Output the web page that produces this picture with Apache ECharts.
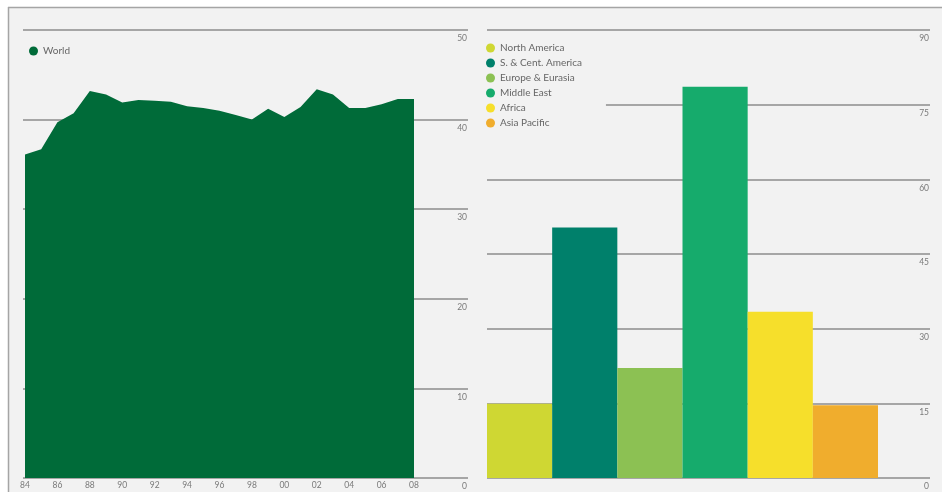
<!DOCTYPE html>
<html>
<head>
<meta charset="utf-8">
<script src="https://cdn.jsdelivr.net/npm/echarts@6/dist/echarts.min.js"></script>
<style>
  html, body { margin: 0; padding: 0; background: #ffffff; }
  #chart { width: 942px; height: 492px; }
</style>
</head>
<body>
<div id="chart"></div>
<script>
// World reserves-to-production ratio, years
const years = ['1984','1985','1986','1987','1988','1989','1990','1991','1992','1993','1994','1995','1996',
               '1997','1998','1999','2000','2001','2002','2003','2004','2005','2006','2007','2008'];
const worldRatio = [36.1, 36.7, 39.7, 40.7, 43.2, 42.8, 41.9, 42.2, 42.1, 42.0, 41.5, 41.3, 41.0,
                    40.5, 40.0, 41.2, 40.3, 41.4, 43.4, 42.8, 41.3, 41.3, 41.7, 42.3, 42.3];

// Regional ratios
const regions = ['North America', 'S. & Cent. America', 'Europe & Eurasia', 'Middle East', 'Africa', 'Asia Pacific'];
const regionRatio = [14.9, 50.3, 22.1, 78.6, 33.4, 14.6];
const regionColors = ['#cfd733', '#00806b', '#8cc153', '#16ab6c', '#f6df2b', '#f0ad2d'];

// Axis ticks
const leftTicks = { min: 0, max: 50, interval: 10 };
const rightTicks = { min: 0, max: 90, interval: 15 };

const gridColor = '#8c8c8c';
const labelColor = '#7a7a7a';
const fontFamily = 'Lato, "Open Sans", sans-serif';

const chart = echarts.init(document.getElementById('chart'), null, { renderer: 'canvas' });

function frameAxis(gridIndex, ticks) {
  return {
    type: 'value', gridIndex: gridIndex, position: 'right',
    min: ticks.min, max: ticks.max, interval: ticks.interval,
    axisLine: { show: false }, axisTick: { show: false },
    splitLine: { show: true, lineStyle: { color: gridColor, width: 1.5 } },
    axisLabel: {
      inside: true, margin: 1, align: 'right', verticalAlign: 'top',
      padding: [4, 0, 0, 0], color: labelColor, fontSize: 8.5, fontFamily: fontFamily
    }
  };
}

function hiddenValueAxis(gridIndex, ticks) {
  return {
    type: 'value', gridIndex: gridIndex, min: ticks.min, max: ticks.max, interval: ticks.interval,
    show: false, splitLine: { show: false }
  };
}

const regionSeries = regions.map((name, i) => ({
  name: name,
  type: 'bar',
  xAxisIndex: 3, yAxisIndex: 3,
  barGap: '-100%', barCategoryGap: '0%',
  itemStyle: { color: regionColors[i] },
  data: regionRatio.map((v, j) => (j === i ? v : '-'))
}));

const option = {
  backgroundColor: '#f2f2f2',
  animation: false,
  textStyle: { fontFamily: fontFamily },
  graphic: [
    { type: 'rect', shape: { x: 0, y: 0, width: 942, height: 7 }, style: { fill: '#ffffff' }, silent: true },
    { type: 'rect', shape: { x: 0, y: 0, width: 8, height: 492 }, style: { fill: '#ffffff' }, silent: true },
    { type: 'line', shape: { x1: 8, y1: 7.5, x2: 942, y2: 7.5 }, style: { stroke: '#a5a5a5', lineWidth: 1.5 }, silent: true },
    { type: 'line', shape: { x1: 8.5, y1: 7, x2: 8.5, y2: 492 }, style: { stroke: '#a5a5a5', lineWidth: 1.5 }, silent: true }
  ],
  legend: [
    {
      data: ['World'], left: 24, top: 41, orient: 'vertical',
      icon: 'circle', itemWidth: 9, itemHeight: 9, itemGap: 3,
      textStyle: { color: '#666666', fontSize: 10, fontFamily: fontFamily }
    },
    {
      data: regions, left: 484, top: 40, orient: 'vertical',
      icon: 'circle', itemWidth: 9, itemHeight: 9, itemGap: 3,
      backgroundColor: '#f2f2f2', padding: [2, 24, 2, 2],
      textStyle: { color: '#666666', fontSize: 10, lineHeight: 12, fontFamily: fontFamily }
    }
  ],
  grid: [
    { left: 23, right: 474, top: 30, bottom: 14 },   // left frame with ticks
    { left: 25, width: 389, top: 30, bottom: 14 },   // world area
    { left: 487, right: 12, top: 30, bottom: 14 },   // right frame with ticks
    { left: 487, width: 391, top: 30, bottom: 14 }   // regional bars
  ],
  xAxis: [
    { type: 'value', gridIndex: 0, show: false, splitLine: { show: false } },
    {
      type: 'category', gridIndex: 1, data: years, boundaryGap: false,
      axisLine: { show: false }, axisTick: { show: false },
      axisLabel: {
        interval: 1, margin: 3, color: labelColor, fontSize: 8.5, fontFamily: fontFamily,
        formatter: v => v.slice(2)
      }
    },
    { type: 'value', gridIndex: 2, show: false, splitLine: { show: false } },
    { type: 'category', gridIndex: 3, data: regions, show: false }
  ],
  yAxis: [
    frameAxis(0, leftTicks),
    hiddenValueAxis(1, leftTicks),
    frameAxis(2, rightTicks),
    hiddenValueAxis(3, rightTicks)
  ],
  series: [
    {
      name: 'World', type: 'line', xAxisIndex: 1, yAxisIndex: 1,
      data: worldRatio, symbol: 'none',
      itemStyle: { color: '#006b39' },
      lineStyle: { width: 0 },
      areaStyle: { color: '#006b39', opacity: 1 }
    }
  ].concat(regionSeries)
};

chart.setOption(option);
</script>
</body>
</html>
